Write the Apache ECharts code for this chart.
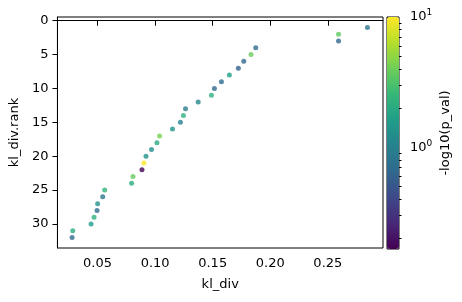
<!DOCTYPE html>
<html lang="en">
<head>
<meta charset="UTF-8" />
<title>kl_div rank</title>
<script type="text/javascript" src="https://cdn.jsdelivr.net/npm/echarts@6/dist/echarts.min.js"></script>
<style>
    html, body { margin: 0; padding: 0; background: #fff; }
</style>
</head>
<body>
<div id="main" style="width: 462px; height: 302px;"></div>
<script type="text/javascript">
    // values
    var klDiv = [0.2844, 0.2593, 0.2593, 0.1874, 0.1833, 0.1770, 0.1723, 0.1645, 0.1576, 0.1515,
                 0.1489, 0.1374, 0.1264, 0.1246, 0.1220, 0.1151, 0.1039, 0.1016, 0.0969, 0.0921,
                 0.0903, 0.0886, 0.0808, 0.0796, 0.0562, 0.0545, 0.0501, 0.0496, 0.0470, 0.0444,
                 0.0285, 0.0279];
    var klRank = [1, 2, 3, 4, 5, 6, 7, 8, 9, 10, 11, 12, 13, 14, 15, 16,
                  17, 18, 19, 20, 21, 22, 23, 24, 25, 26, 27, 28, 29, 30, 31, 32];
    var pVal = [0.85, 3.6, 0.65, 0.7, 3.9, 0.7, 0.6, 1.7, 0.7, 0.65, 2.2, 1.1, 0.95, 2.3, 1.0, 1.4,
                4.2, 2.0, 1.25, 1.35, 10, 0.166, 3.8, 2.1, 2.4, 0.85, 1.4, 0.7, 2.3, 1.6, 2.1, 0.7];

    // tick labels
    var xTicks = [0.05, 0.10, 0.15, 0.20, 0.25];
    var yTicks = [0, 5, 10, 15, 20, 25, 30];
    var cbTicks = [1, 10];
    var cbMinor = [0.2, 0.3, 0.4, 0.5, 0.6, 0.7, 0.8, 0.9, 2, 3, 4, 5, 6, 7, 8, 9];

    var cbMin = 0.166, cbMax = 10;
    var viridis = ['#440154', '#482878', '#3e4989', '#31688e', '#26828e',
                   '#1f9e89', '#35b779', '#6ece58', '#b5de2b', '#fde725'];
    var font = 'DejaVu Sans';

    // colour is mapped on log10(p_val), like a LogNorm
    var points = [];
    for (var i = 0; i < klDiv.length; i++) {
        points.push([klDiv[i], klRank[i], Math.log10(pVal[i])]);
    }
    function lg(v) { return Math.log10(v); }

    var myChart = echarts.init(document.getElementById('main'));

    var options = {
        animation: false,
        textStyle: { fontFamily: font },
        grid: [
            { left: 57, right: 79, top: 17, bottom: 54, show: true, borderColor: '#000', borderWidth: 1 },
            // colorbar
            { left: 387, width: 12, top: 17, height: 232, show: true, borderColor: '#000', borderWidth: 1 }
        ],
        visualMap: {
            type: 'continuous',
            seriesIndex: 0,
            dimension: 2,
            min: lg(cbMin),
            max: lg(cbMax),
            left: 387,
            top: 17,
            itemWidth: 12,
            itemHeight: 232,
            padding: 0,
            text: null,
            showLabel: false,
            calculable: false,
            hoverLink: false,
            inRange: { color: viridis }
        },
        xAxis: [
            {
                gridIndex: 0,
                type: 'value',
                min: 0.0152,
                max: 0.2979,
                name: 'kl_div',
                nameLocation: 'middle',
                nameGap: 30,
                nameTextStyle: { color: '#000', fontSize: 13, fontFamily: font },
                axisLine: { show: true, lineStyle: { color: '#000', width: 1 } },
                axisTick: { show: true, length: 5, customValues: xTicks, lineStyle: { color: '#000' } },
                axisLabel: {
                    customValues: xTicks, color: '#000', fontSize: 13, fontFamily: font, margin: 9,
                    formatter: function (v) { return v.toFixed(2); }
                },
                splitLine: { show: false }
            },
            { gridIndex: 1, type: 'value', min: 0, max: 1, show: false }
        ],
        yAxis: [
            {
                gridIndex: 0,
                type: 'value',
                inverse: true,
                min: -0.55,
                max: 33.55,
                name: 'kl_div.rank',
                nameLocation: 'middle',
                nameGap: 33,
                nameTextStyle: { color: '#000', fontSize: 13, fontFamily: font },
                axisLine: { show: true, lineStyle: { color: '#000', width: 1 } },
                axisTick: { show: true, length: 5, customValues: yTicks, lineStyle: { color: '#000' } },
                axisLabel: { customValues: yTicks, color: '#000', fontSize: 13, fontFamily: font, margin: 9 },
                splitLine: { show: false }
            },
            {
                // colorbar major ticks
                gridIndex: 1,
                type: 'value',
                position: 'right',
                min: lg(cbMin),
                max: lg(cbMax),
                name: '-log10(p_val)',
                nameLocation: 'middle',
                nameGap: 40,
                nameRotate: 90,
                nameTextStyle: { color: '#000', fontSize: 13, fontFamily: font },
                axisLine: { show: false },
                axisTick: { show: true, length: 5, customValues: cbTicks.map(lg), lineStyle: { color: '#000' } },
                axisLabel: {
                    customValues: cbTicks.map(lg), color: '#000', margin: 11,
                    formatter: function (v) { return '{b|10}{s|' + Math.round(v) + '}'; },
                    rich: {
                        b: { fontSize: 13, fontFamily: font, color: '#000' },
                        s: { fontSize: 9, fontFamily: font, color: '#000', verticalAlign: 'top', padding: [0, 0, 8, 0] }
                    }
                },
                splitLine: { show: false }
            },
            {
                // colorbar minor ticks
                gridIndex: 1,
                type: 'value',
                position: 'right',
                min: lg(cbMin),
                max: lg(cbMax),
                axisLine: { show: false },
                axisTick: { show: true, length: 2.5, customValues: cbMinor.map(lg), lineStyle: { color: '#000' } },
                axisLabel: { show: false },
                splitLine: { show: false }
            }
        ],
        series: [
            {
                type: 'scatter',
                xAxisIndex: 0,
                yAxisIndex: 0,
                symbolSize: 5,
                data: points
            }
        ]
    };
    myChart.setOption(options);
</script>
</body>
</html>
